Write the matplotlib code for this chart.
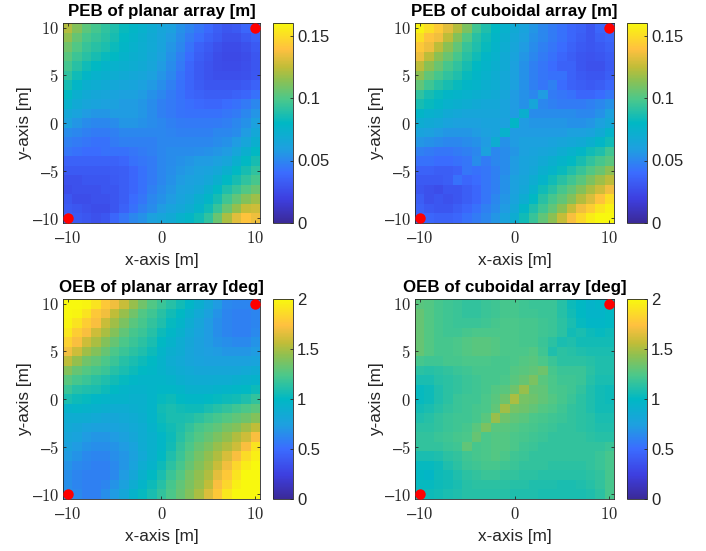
import matplotlib
matplotlib.use('Agg')
import matplotlib.pyplot as plt
from matplotlib.colors import LinearSegmentedColormap
import numpy as np

plt.rcParams['font.family'] = 'Liberation Sans'
plt.rcParams['mathtext.fontset'] = 'cm'

# rows run from y=10 down to y=-10, columns from x=-10 to x=10
# PEB in mm, OEB in 1/100 deg
peb_planar = [
    [122,112,103,97,92,88,82,78,74,69,64,60,54,49,44,39,34,30,32,38,40],
    [115,105,98,94,90,86,80,76,72,68,63,58,52,46,41,36,32,28,28,32,36],
    [108,100,94,90,87,83,78,74,71,67,62,56,50,43,36,32,28,25,25,28,32],
    [102,95,90,86,82,80,75,72,70,66,60,54,47,40,34,30,26,24,24,26,30],
    [97,90,84,80,76,74,72,70,68,64,58,52,45,38,32,29,26,25,25,27,30],
    [92,84,78,74,72,70,68,66,64,60,55,50,43,37,32,29,27,27,27,28,31],
    [85,78,72,70,68,66,64,63,60,57,53,48,42,37,33,30,30,30,30,32,36],
    [80,72,68,65,64,62,60,60,58,54,50,46,42,38,36,34,34,34,36,38,42],
    [74,68,64,62,60,60,58,58,56,52,48,45,43,41,39,38,38,40,42,45,50],
    [66,62,58,56,56,58,58,58,56,52,48,45,43,42,42,42,42,44,46,50,55],
    [60,56,52,50,50,52,56,56,54,52,50,48,46,45,45,45,46,47,50,54,60],
    [52,50,48,46,46,48,50,50,50,50,50,49,48,48,48,48,50,50,52,58,66],
    [48,46,44,42,42,46,48,48,48,48,50,50,50,50,50,50,52,54,58,64,72],
    [44,42,40,40,42,42,42,44,46,48,50,52,52,52,53,54,56,58,64,72,80],
    [36,36,36,36,36,36,38,42,44,46,50,52,54,56,58,58,60,64,72,80,86],
    [32,32,32,32,32,33,34,38,42,46,50,53,56,58,60,62,66,72,80,86,92],
    [28,28,30,30,30,32,34,38,42,46,50,54,58,60,62,66,72,80,86,92,98],
    [26,28,28,28,30,30,34,38,42,48,52,56,60,62,66,72,80,88,94,100,106],
    [30,26,26,28,28,30,34,40,44,50,54,58,62,66,72,78,86,96,104,112,118],
    [32,30,28,26,26,30,36,42,48,52,58,62,66,70,76,84,94,106,116,126,128],
    [35,32,30,28,30,38,44,50,54,60,64,68,74,78,84,92,106,120,132,140,135],
]
peb_cuboid = [
    [158,150,143,132,122,110,96,88,80,74,68,62,56,50,46,42,38,35,30,38,40],
    [150,140,136,124,112,100,90,84,78,72,66,60,54,50,46,42,38,34,30,35,38],
    [142,135,124,114,104,94,88,82,76,70,64,58,52,48,44,40,36,32,30,32,35],
    [135,124,114,106,98,90,84,78,74,68,62,56,50,46,42,38,34,30,29,30,33],
    [124,114,106,98,92,86,80,76,72,68,60,54,48,44,40,36,36,30,28,28,32],
    [114,104,98,92,88,82,78,74,70,66,60,54,48,44,42,42,36,32,30,30,34],
    [104,96,90,86,82,78,76,72,70,66,60,54,48,44,48,40,36,34,32,34,38],
    [92,86,82,78,76,74,72,70,68,64,58,54,50,58,46,44,42,38,38,40,44],
    [86,82,78,74,72,70,68,66,66,62,58,54,64,50,48,46,46,46,48,50,54],
    [78,74,72,68,66,64,64,64,64,62,58,72,52,52,52,52,52,50,50,54,60],
    [70,68,66,62,60,60,60,62,62,60,78,58,56,56,56,56,54,54,56,60,66],
    [62,60,58,56,56,56,58,60,62,74,58,58,58,58,58,58,60,60,62,68,76],
    [56,54,52,50,50,52,54,58,70,54,58,60,60,60,62,64,66,68,72,78,84],
    [48,46,44,44,46,48,50,60,50,52,56,60,62,64,66,70,74,78,84,88,96],
    [42,42,40,40,42,44,52,46,50,52,58,62,64,68,72,76,80,86,92,98,102],
    [36,36,34,34,36,44,42,44,48,52,58,62,66,72,76,82,88,94,100,106,114],
    [32,32,32,34,42,38,40,44,48,54,60,64,70,76,84,90,96,102,110,118,124],
    [30,28,26,30,30,34,38,44,48,54,60,66,74,84,90,98,104,112,120,128,136],
    [34,28,30,28,30,34,38,44,50,56,62,70,80,90,98,104,112,122,130,140,150],
    [36,32,30,30,34,38,42,48,52,58,66,78,88,96,104,114,126,136,144,152,158],
    [38,38,36,36,38,42,46,50,56,62,70,84,94,104,114,126,138,148,156,160,160],
]
oeb_planar = [
    [200,200,198,190,178,170,158,146,135,125,118,112,106,98,90,82,72,64,62,62,64],
    [200,198,190,178,170,156,146,135,125,120,113,106,100,92,84,76,68,62,60,60,62],
    [198,190,180,172,158,148,138,128,122,116,110,102,96,88,80,72,66,62,60,60,62],
    [192,180,172,160,150,140,130,122,118,112,104,98,92,84,78,72,66,62,60,60,64],
    [182,172,160,150,140,132,124,118,114,108,100,94,88,82,76,72,68,66,64,64,68],
    [170,160,148,140,132,124,118,114,110,104,96,90,86,80,76,74,72,70,70,70,72],
    [155,145,135,130,124,118,112,108,104,100,94,88,84,80,78,76,76,76,76,76,78],
    [140,132,126,122,118,112,108,104,100,98,94,90,86,84,82,82,82,82,82,84,86],
    [128,122,118,114,110,106,102,98,96,96,96,94,90,88,86,86,88,88,90,92,94],
    [118,112,110,108,104,100,96,94,94,96,98,98,96,92,92,92,94,96,98,100,104],
    [108,104,102,98,96,94,94,92,92,96,102,104,100,98,98,100,102,104,106,110,116],
    [94,96,94,92,90,88,88,90,92,96,106,108,106,104,104,108,112,116,120,124,128],
    [88,88,86,84,82,82,84,86,90,96,104,108,108,110,114,118,122,126,130,134,140],
    [84,82,78,76,76,78,80,84,88,94,102,106,110,116,122,126,130,136,140,148,156],
    [80,78,72,70,70,72,76,82,88,92,98,104,112,120,126,132,138,144,152,160,172],
    [76,72,68,66,66,68,72,78,86,92,98,106,116,124,132,138,146,152,160,172,190],
    [72,68,64,62,62,66,70,76,84,92,100,110,118,128,136,144,152,162,172,186,196],
    [68,64,62,60,60,64,70,78,88,94,104,114,122,132,140,148,158,170,184,194,200],
    [66,62,60,60,60,64,72,82,92,100,108,118,126,136,144,152,166,178,190,200,200],
    [66,62,60,60,62,68,76,88,96,104,112,122,130,138,146,156,172,184,196,200,200],
    [68,64,60,60,66,72,82,94,102,108,116,124,132,140,150,164,178,192,200,200,200],
]
oeb_cuboid = [
    [128,126,122,120,118,116,116,118,120,122,122,120,118,118,118,112,104,100,95,98,100],
    [132,126,122,120,118,116,116,118,120,122,122,120,120,118,118,112,106,100,96,96,100],
    [132,126,122,120,118,118,118,120,122,124,124,122,122,120,118,114,108,102,98,98,100],
    [132,126,122,120,120,122,124,124,124,124,124,122,122,120,118,114,106,108,104,102,104],
    [132,126,122,122,124,126,128,128,126,124,124,122,122,118,114,108,110,106,106,106,106],
    [132,126,122,122,124,126,128,128,126,124,124,124,126,120,110,114,112,110,108,108,108],
    [122,120,120,122,122,124,124,124,122,122,124,126,128,124,118,114,114,114,112,110,110],
    [114,112,114,116,118,120,122,122,122,122,126,128,130,134,122,118,118,118,114,110,110],
    [108,108,112,114,116,118,120,122,122,124,128,132,138,128,124,120,120,118,112,108,108],
    [102,104,110,114,116,118,120,122,126,128,134,146,132,130,124,122,120,116,110,106,104],
    [102,104,110,114,118,120,120,124,128,134,150,136,134,130,126,122,118,114,110,106,104],
    [106,108,112,116,118,120,122,124,130,148,136,134,130,126,124,120,116,114,110,106,106],
    [110,112,116,118,120,120,122,128,146,134,130,128,124,122,120,118,116,114,112,108,108],
    [114,114,116,118,120,122,128,138,128,128,126,124,122,120,118,116,116,114,112,110,110],
    [116,116,118,120,122,124,132,124,126,126,124,122,120,118,116,116,116,116,114,112,112],
    [116,116,116,118,120,130,122,124,126,126,124,120,118,116,116,116,116,116,116,116,118],
    [108,108,110,114,116,120,122,124,126,124,120,118,116,116,116,116,116,116,116,118,122],
    [102,102,104,110,114,118,120,122,122,120,118,116,116,116,114,114,114,114,116,118,122],
    [100,98,104,106,110,114,116,118,118,116,116,114,114,112,112,112,112,112,114,116,122],
    [102,102,104,106,108,112,114,114,114,114,112,112,110,110,110,108,108,110,112,116,122],
    [104,104,106,108,110,112,112,112,112,112,110,110,110,108,108,108,108,108,110,114,122],
]
titles = ['PEB of planar array [m]', 'PEB of cuboidal array [m]',
          'OEB of planar array [deg]', 'OEB of cuboidal array [deg]']
anchor_x = [-10, 10]
anchor_y = [-10, 10]
peb_ticks = [0, 0.05, 0.1, 0.15]
peb_labels = ['0', '0.05', '0.1', '0.15']
oeb_ticks = [0, 0.5, 1, 1.5, 2]
oeb_labels = ['0', '0.5', '1', '1.5', '2']

# parula as it looks in the reference colorbar
parula = LinearSegmentedColormap.from_list('parula', [
    (0.0, '#3b2a98'), (0.12, '#3d3fe0'), (0.25, '#3b6cff'), (0.37, '#1ea0e0'),
    (0.5, '#00b8c4'), (0.62, '#4cc88a'), (0.72, '#90c050'), (0.78, '#c0bd38'),
    (0.87, '#ffc040'), (1.0, '#f8f80e')])

W, H = 706, 551
DARK = '#262626'


def panel(left, width, top, data, title, vmax, ticks, labels):
    ax = fig.add_axes([left / W, 1 - (top + 200) / H, width / W, 200 / H])
    im = ax.imshow(data, cmap=parula, vmin=0, vmax=vmax, extent=[-10.5, 10.5, -10.5, 10.5],
                   aspect='auto', interpolation='nearest')
    ax.plot(anchor_x, anchor_y, 'o', color='red', ms=6.5, clip_on=False, zorder=5)
    ax.set_xticks([-10, 0, 10])
    ax.set_xticklabels(['–$10$', '$0$', '$10$'], fontsize=12, color=DARK)
    ax.set_yticks([-10, -5, 0, 5, 10])
    ax.set_yticklabels(['–$10$', '–$5$', '$0$', '$5$', '$10$'], fontsize=12, color=DARK)
    ax.tick_params(direction='in', length=2, width=0.6, top=True, right=True, color=DARK)
    ax.tick_params(axis='x', pad=5)
    ax.tick_params(axis='y', pad=3)
    ax.set_xlabel('x-axis [m]', fontsize=12.3, color=DARK, labelpad=5)
    ax.set_ylabel('y-axis [m]', fontsize=12.3, color=DARK, labelpad=0)
    ax.set_title(title, fontsize=12.2, fontweight='bold', pad=5)
    for s in ax.spines.values():
        s.set_linewidth(0.6)
        s.set_color(DARK)

    cax = fig.add_axes([(left + width + 13) / W, 1 - (top + 200) / H, 20 / W, 200 / H])
    cb = fig.colorbar(im, cax=cax)
    cb.set_ticks(ticks, labels=labels)
    cb.ax.tick_params(direction='in', length=2, width=0.6, labelsize=12, pad=3, color=DARK,
                      labelcolor=DARK)
    cb.outline.set_linewidth(0.6)
    cb.outline.set_edgecolor(DARK)


fig = plt.figure(figsize=(W / 100, H / 100), dpi=100)
panel(63, 197, 23, np.array(peb_planar) / 1000, titles[0], 0.16, peb_ticks, peb_labels)
panel(415, 199, 23, np.array(peb_cuboid) / 1000, titles[1], 0.16, peb_ticks, peb_labels)
panel(63, 197, 299, np.array(oeb_planar) / 100, titles[2], 2, oeb_ticks, oeb_labels)
panel(415, 199, 299, np.array(oeb_cuboid) / 100, titles[3], 2, oeb_ticks, oeb_labels)

fig.savefig('out.png', dpi=100)
